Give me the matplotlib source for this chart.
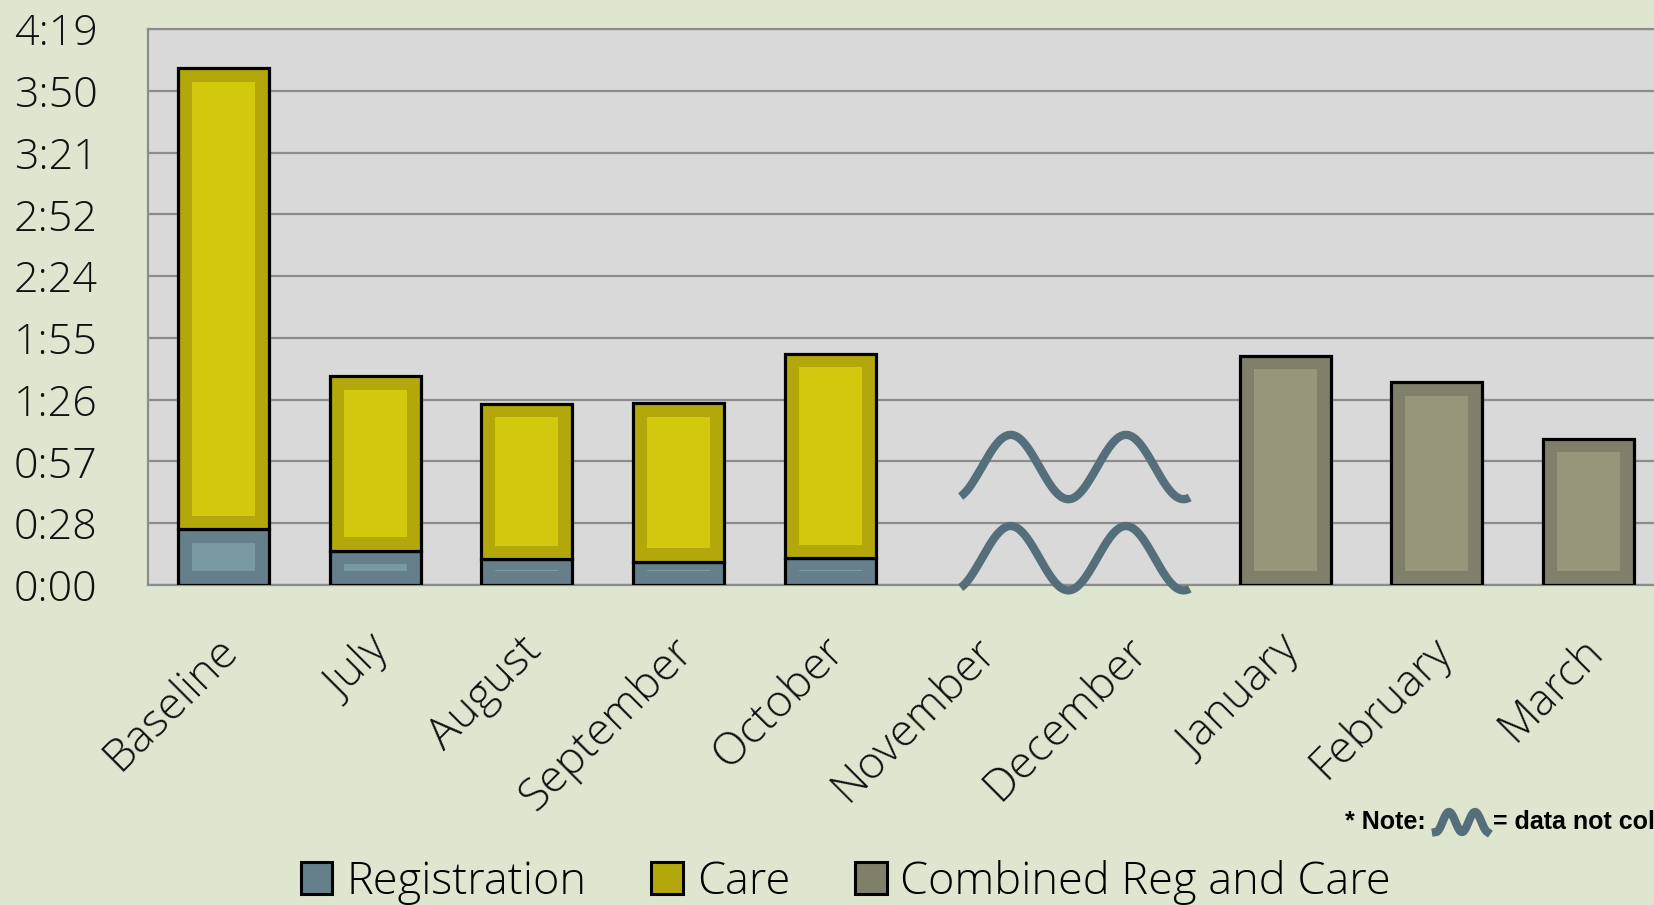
import numpy as np
import matplotlib
matplotlib.use("Agg")
import matplotlib.pyplot as plt
from matplotlib.patches import Patch
from matplotlib.lines import Line2D
from matplotlib.ticker import FixedLocator, FuncFormatter
from matplotlib.transforms import ScaledTranslation

# ---- data (minutes) ----
categories = ['Baseline', 'July', 'August', 'September', 'October',
              'November', 'December', 'January', 'February', 'March']
registration = [26.0, 16.0, 12.0, 10.9, 12.4, np.nan, np.nan, np.nan, np.nan, np.nan]
care = [214.9, 81.2, 72.4, 73.8, 95.3, np.nan, np.nan, np.nan, np.nan, np.nan]
combined = [np.nan, np.nan, np.nan, np.nan, np.nan, np.nan, np.nan, 106.9, 94.5, 68.1]
series_names = ['Registration', 'Care', 'Combined Reg and Care']
y_max = 259.2
y_step = 28.8

# ---- styles ----
W, H = 1654, 905
fig_bg = '#dfe6cf'
plot_bg = '#d9d9d9'
grid_c = '#8c8c8c'
outer = {'Registration': '#65808a', 'Care': '#b2a80b', 'Combined Reg and Care': '#807f69'}
inner = {'Registration': '#7898a2', 'Care': '#d2c80d', 'Combined Reg and Care': '#98967a'}
wave_c = '#546f7a'
font_main = 'Open Sans'
font_weight = 'light'

fig = plt.figure(figsize=(W / 100, H / 100), dpi=100)
fig.patch.set_facecolor(fig_bg)
ax = fig.add_axes([147.7 / W, (H - 585) / H, 1516.7 / W, 556 / H])
ax.set_facecolor(plot_bg)

x = np.arange(len(categories))
bw = 0.6
inset_x = 0.092
inset_y = 6.3


def draw_segment(xs, bottoms, heights, name):
    xs = np.asarray(xs, float)
    b = np.asarray(bottoms, float)
    h = np.asarray(heights, float)
    m = ~np.isnan(h)
    ax.bar(xs[m], h[m], bottom=b[m], width=bw, color=outer[name],
           edgecolor='black', linewidth=2.3, zorder=3)
    ih = np.maximum(h[m] - 2 * inset_y, 0.5)
    ax.bar(xs[m], ih, bottom=b[m] + inset_y, width=bw - 2 * inset_x,
           color=inner[name], linewidth=0, zorder=4)


reg = np.array(registration, float)
draw_segment(x, np.zeros(len(x)), reg, 'Registration')
draw_segment(x, reg, np.array(care, float), 'Care')
draw_segment(x, np.zeros(len(x)), np.array(combined, float), 'Combined Reg and Care')

# ---- axes ----
ax.set_xlim(-0.5, len(categories) - 0.5)
ax.set_ylim(0, y_max)
yt = np.arange(0, y_max + 0.01, y_step)
ax.yaxis.set_major_locator(FixedLocator(yt))


def fmt(v, pos):
    mins = int(np.floor(v + 1e-6))
    return f"{mins // 60}:{mins % 60:02d}"


ax.yaxis.set_major_formatter(FuncFormatter(fmt))
ax.grid(axis='y', color=grid_c, linewidth=1.6, zorder=1)
ax.set_axisbelow(True)
ax.spines['right'].set_visible(False)
for s in ['left', 'bottom', 'top']:
    ax.spines[s].set_color(grid_c)
    ax.spines[s].set_linewidth(1.6)
ax.tick_params(axis='both', length=0)
ax.tick_params(axis='y', pad=36)
for lab in ax.get_yticklabels():
    lab.set_fontfamily(font_main)
    lab.set_fontweight(font_weight)
    lab.set_fontsize(31)
    lab.set_color('#111111')

ax.set_xticks(x)
ax.set_xticklabels(categories, rotation=45, ha='right', va='center',
                   rotation_mode='anchor', fontsize=32.5, family=font_main,
                   fontweight=font_weight, color='#111111')
ax.tick_params(axis='x', pad=43)
shift = ScaledTranslation(8 / 100, 0, fig.dpi_scale_trans)
for lab in ax.get_xticklabels():
    lab.set_transform(lab.get_transform() + shift)

# ---- "data not collected" waves ----
wx = np.linspace(4.86, 6.37, 300)
for center in (55.0, 12.5):
    wy = center + 15 * np.cos(2 * np.pi * (wx - 5.19) / 0.76)
    ax.plot(wx, wy, color=wave_c, linewidth=6, solid_capstyle='butt',
            clip_on=False, zorder=5)

# ---- legend ----
handles = [Patch(facecolor=outer[n], edgecolor='black', linewidth=2.2) for n in series_names]
leg = fig.legend(handles, series_names, loc='center', bbox_to_anchor=(846 / W, 1 - 882 / H),
                 ncol=3, frameon=False,
                 prop={'family': font_main, 'size': 32.5, 'weight': font_weight},
                 handlelength=0.7, handleheight=0.7, handletextpad=0.3,
                 columnspacing=1.45)

# ---- note ----
fig.text(1345 / W, 1 - 822 / H, '* Note:', fontsize=18, fontweight='bold',
         family='Liberation Sans', ha='left', va='center')
nx = np.linspace(1436, 1487, 100)
ny = 822 - 10 * np.cos(2 * np.pi * (nx - 1449) / 26)
fig.add_artist(Line2D(nx / W, 1 - ny / H, color=wave_c, linewidth=6,
                      transform=fig.transFigure))
fig.text(1493 / W, 1 - 822 / H, '= data not collected', fontsize=18, fontweight='bold',
         family='Liberation Sans', ha='left', va='center')

fig.savefig('out.png', dpi=100, facecolor=fig_bg)
